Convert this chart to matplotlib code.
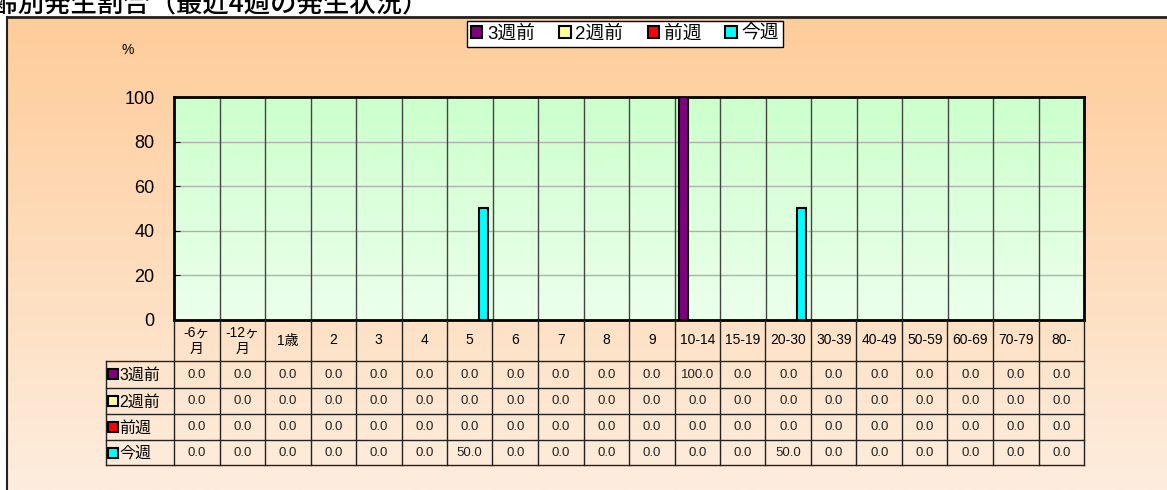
import numpy as np
import matplotlib.pyplot as plt
from matplotlib.patches import Rectangle

plt.rcParams['font.family'] = ['Liberation Sans', 'Noto Sans CJK JP']

# データ
title = '年齢別発生割合（最近4週の発生状況）'
categories = ['-6ヶ\n月', '-12ヶ\n月', '1歳', '2', '3', '4', '5', '6', '7', '8', '9',
              '10-14', '15-19', '20-30', '30-39', '40-49', '50-59', '60-69', '70-79', '80-']
series_names = ['3週前', '2週前', '前週', '今週']
vals_3w = [0, 0, 0, 0, 0, 0, 0, 0, 0, 0, 0, 100, 0, 0, 0, 0, 0, 0, 0, 0]
vals_2w = [0, 0, 0, 0, 0, 0, 0, 0, 0, 0, 0, 0, 0, 0, 0, 0, 0, 0, 0, 0]
vals_1w = [0, 0, 0, 0, 0, 0, 0, 0, 0, 0, 0, 0, 0, 0, 0, 0, 0, 0, 0, 0]
vals_now = [0, 0, 0, 0, 0, 0, 50, 0, 0, 0, 0, 0, 0, 50, 0, 0, 0, 0, 0, 0]
series_vals = [vals_3w, vals_2w, vals_1w, vals_now]
colors = ['#800080', '#FFFF99', '#FF0000', '#00FFFF']
yticks = [0, 20, 40, 60, 80, 100]

W, H = 1167, 490


def fx(px):
    return px / W


def fy(py):
    return 1 - py / H


fig = plt.figure(figsize=(W / 100, H / 100), dpi=100)
fig.patch.set_facecolor('white')

# 背景（グラデーション）
bg = fig.add_axes([0, 0, 1, 1])
top = np.array([255, 204, 153]) / 255
bot = np.array([253, 237, 222]) / 255
t = np.linspace(0, 1, 256)[:, None, None]
bg.imshow(top + (bot - top) * t, extent=[7, W, H, 17], aspect='auto')
bg.set_xlim(0, W)
bg.set_ylim(H, 0)
bg.axis('off')
bg.plot([7, 7], [17, H], color='#222222', lw=1.5)
bg.plot([7, W], [17, 17], color='#222222', lw=2)
bg.text(-34, 12, title, fontsize=19, va='baseline', ha='left',
        family=['Noto Sans CJK JP'], fontweight='medium')

# グラフ本体
ax = fig.add_axes([fx(174), fy(320), (1084 - 174) / W, (320 - 97) / H])
n = len(categories)
x = np.arange(n)
gtop = np.array([204, 255, 204]) / 255
gbot = np.array([236, 255, 236]) / 255
ax.imshow(gtop + (gbot - gtop) * t, extent=[-0.5, n - 0.5, 0, 100], aspect='auto', zorder=0)
ax.set_xlim(-0.5, n - 0.5)
ax.set_ylim(0, 100)
for y in yticks[1:-1]:
    ax.axhline(y, color='#b0b0b0', lw=1, zorder=1)
for k in range(n - 1):
    ax.axvline(k + 0.5, color='#444444', lw=1, zorder=1)

w = 0.2
for i, vals in enumerate(series_vals):
    v = np.array(vals, dtype=float)
    m = v > 0
    ax.bar(x[m] + (i - 1.5) * w, v[m], w, color=colors[i], edgecolor='black', lw=1.5, zorder=3)

ax.set_xticks([])
ax.set_yticks(yticks)
ax.tick_params(axis='y', direction='in', length=4, labelsize=13, pad=14)
for s in ax.spines.values():
    s.set_linewidth(2)
    s.set_color('black')
fig.text(fx(128), fy(50), '%', fontsize=10, ha='center', va='center')

# 凡例
handles = [Rectangle((0, 0), 1, 1, facecolor=c, edgecolor='black', lw=1.5) for c in colors]
leg = fig.legend(handles, series_names, ncol=4, loc='center',
                 bbox_to_anchor=(fx(625), fy(34)), fontsize=13.5,
                 handlelength=0.6, handleheight=0.6, handletextpad=0.25,
                 columnspacing=1.3, borderpad=0.2, borderaxespad=0, fancybox=False,
                 framealpha=1, edgecolor='black')
leg.get_frame().set_linewidth(1)

# データテーブル
cw = (1084 - 174) / n


def tx(px):
    return -0.5 + (px - 174) / cw


tab = fig.add_axes([fx(106), fy(465), (1084 - 106) / W, (465 - 320) / H])
tab.set_xlim(tx(106), n - 0.5)
tab.set_ylim(465, 320)
tab.axis('off')
row_edges = [361, 388, 414, 440, 465]
lc = '#222222'
for y in row_edges:
    tab.plot([tx(106), n - 0.5], [y, y], color=lc, lw=1, clip_on=False)
for k in range(n + 1):
    tab.plot([k - 0.5, k - 0.5], [320, 465], color=lc, lw=1, clip_on=False)
tab.plot([tx(106), tx(106)], [361, 465], color=lc, lw=1, clip_on=False)

for k, lab in enumerate(categories):
    tab.text(k, 340.5, lab, ha='center', va='center', fontsize=10, linespacing=1.2)

for i, vals in enumerate(series_vals):
    yc = (row_edges[i] + row_edges[i + 1]) / 2
    tab.plot(tx(113), yc, marker='s', ms=7, mfc=colors[i], mec='black', mew=1.5, clip_on=False)
    tab.text(tx(119), yc + 1, series_names[i], ha='left', va='center', fontsize=11.5)
    for k, v in enumerate(vals):
        tab.text(k, yc, f'{v:.1f}', ha='center', va='center', fontsize=9.5, color='#222222')

fig.savefig('out.png', dpi=100)
